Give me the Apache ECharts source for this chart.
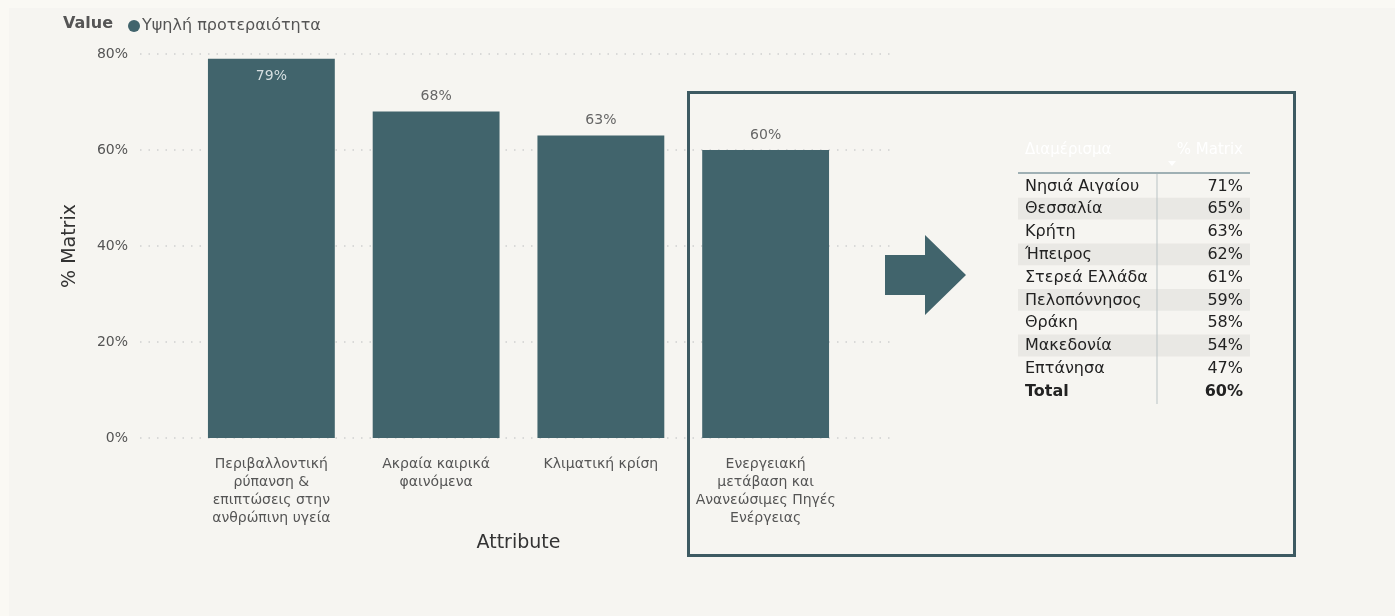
<!DOCTYPE html>
<html><head><meta charset="utf-8">
<script src="https://cdn.jsdelivr.net/npm/echarts@6/dist/echarts.min.js"></script>
<style>html,body{margin:0;padding:0;background:#faf9f4;}#c{width:1395px;height:616px;}</style>
</head><body><div id="c"></div>
<script>
const categories = [
  "Περιβαλλοντική\nρύπανση &\nεπιπτώσεις στην\nανθρώπινη υγεία",
  "Ακραία καιρικά\nφαινόμενα",
  "Κλιματική κρίση",
  "Ενεργειακή\nμετάβαση και\nΑνανεώσιμες Πηγές\nΕνέργειας"
];
const highPriority = [79, 68, 63, 60];
const yTicks = [0, 20, 40, 60, 80];
const regions = ["Νησιά Αιγαίου","Θεσσαλία","Κρήτη","Ήπειρος","Στερεά Ελλάδα","Πελοπόννησος","Θράκη","Μακεδονία","Επτάνησα"];
const regionValues = [71, 65, 63, 62, 61, 59, 58, 54, 47];
const totalValue = 60;

const FONT = "DejaVu Sans";
const BAR = "#41646c";
const chart = echarts.init(document.getElementById('c'));

// table graphics
const tbl = [];
const tx0 = 1018, tx1 = 1250, tTop = 174, rowH = 22.8;
tbl.push({type:'text', left:1025, top:143, style:{text:'Διαμέρισμα', fill:'#ffffff', font:'15px '+FONT}});
tbl.push({type:'text', right:1395-1243, top:143, style:{text:'% Matrix', fill:'#ffffff', font:'15px '+FONT, align:'right'}});
tbl.push({type:'polygon', shape:{points:[[1168,161],[1176,161],[1172,166]]}, style:{fill:'#ffffff'}});
const rows = regions.map((r,i)=>({name:r, v:regionValues[i]+'%', bold:false})).concat([{name:'Total', v:totalValue+'%', bold:true}]);
rows.forEach((r,i)=>{
  const y = tTop + i*rowH;
  if (i % 2 === 1 && !r.bold) tbl.push({type:'rect', shape:{x:tx0, y:y+1, width:tx1-tx0, height:rowH-1}, style:{fill:'#e9e8e4'}});
  const f = (r.bold?'bold ':'') + '16px ' + FONT;
  tbl.push({type:'text', x:1025, y:y+rowH/2+1, style:{text:r.name, fill:'#222', font:f, verticalAlign:'middle'}, z:10});
  tbl.push({type:'text', x:1243, y:y+rowH/2+1, style:{text:r.v, fill:'#222', font:f, align:'right', verticalAlign:'middle'}, z:10});
});
tbl.push({type:'line', shape:{x1:tx0, y1:173, x2:tx1, y2:173}, style:{stroke:'#9fb0b4', lineWidth:2}, z:11});
tbl.push({type:'line', shape:{x1:1157, y1:174, x2:1157, y2:404}, style:{stroke:'#b9c3c5', lineWidth:1}, z:11});

chart.setOption({
  backgroundColor:'#faf9f4',
  animation:false,
  textStyle:{fontFamily:FONT},
  legend:{left:123, top:13, icon:'circle', itemWidth:12, itemHeight:12, itemGap:4,
    textStyle:{color:'#555', fontSize:16, fontFamily:FONT, padding:[0,0,0,-3]}, data:['Υψηλή προτεραιότητα']},
  grid:[
    {left:140, right:500, top:54, bottom:178},
    {left:189, right:547, top:54, bottom:178}
  ],
  xAxis:[
    {gridIndex:0, type:'category', data:['a'], show:false},
    {gridIndex:1, type:'category', data:categories, axisLine:{show:false}, axisTick:{show:false},
     axisLabel:{color:'#555', fontSize:14, lineHeight:18, margin:17, interval:0, fontFamily:FONT},
     name:'Attribute', nameLocation:'middle', nameGap:96,
     nameTextStyle:{color:'#333', fontSize:19, fontFamily:FONT}}
  ],
  yAxis:[
    {gridIndex:0, type:'value', min:yTicks[0], max:yTicks[yTicks.length-1], interval:yTicks[1]-yTicks[0],
     axisLabel:{formatter:'{value}%', color:'#555', fontSize:14, margin:12, fontFamily:FONT},
     axisLine:{show:false}, axisTick:{show:false},
     splitLine:{lineStyle:{type:[1.5,7], color:'#cfcfcf', width:1.5}},
     name:'% Matrix', nameLocation:'middle', nameGap:60,
     nameTextStyle:{color:'#333', fontSize:19, fontFamily:FONT}},
    {gridIndex:1, type:'value', min:yTicks[0], max:yTicks[yTicks.length-1], interval:yTicks[1]-yTicks[0], show:false}
  ],
  series:[{
    name:'Υψηλή προτεραιότητα', type:'bar', xAxisIndex:1, yAxisIndex:1,
    barCategoryGap:'23%', itemStyle:{color:BAR},
    data: highPriority.map((v,i)=>({value:v, label: i===0 ? {position:'insideTop', color:'#d6dfe1', distance:11} : {}})),
    label:{show:true, position:'top', formatter:'{c}%', color:'#666', fontSize:14, distance:8, fontFamily:FONT}
  }],
  graphic:[
    {type:'rect', shape:{x:9, y:8, width:1386, height:608}, style:{fill:'#f6f5f1'}, z:-10, silent:true},
    {type:'text', left:63, top:16, style:{text:'Value', fill:'#555', font:'bold 16px '+FONT}},
    {type:'rect', shape:{x:688.5, y:92.5, width:606, height:463}, style:{fill:'none', stroke:'#3d5a62', lineWidth:3}},
    {type:'polygon', shape:{points:[[885,255],[925,255],[925,235],[966,275],[925,315],[925,295],[885,295]]}, style:{fill:BAR}}
  ].concat(tbl)
});
</script></body></html>
